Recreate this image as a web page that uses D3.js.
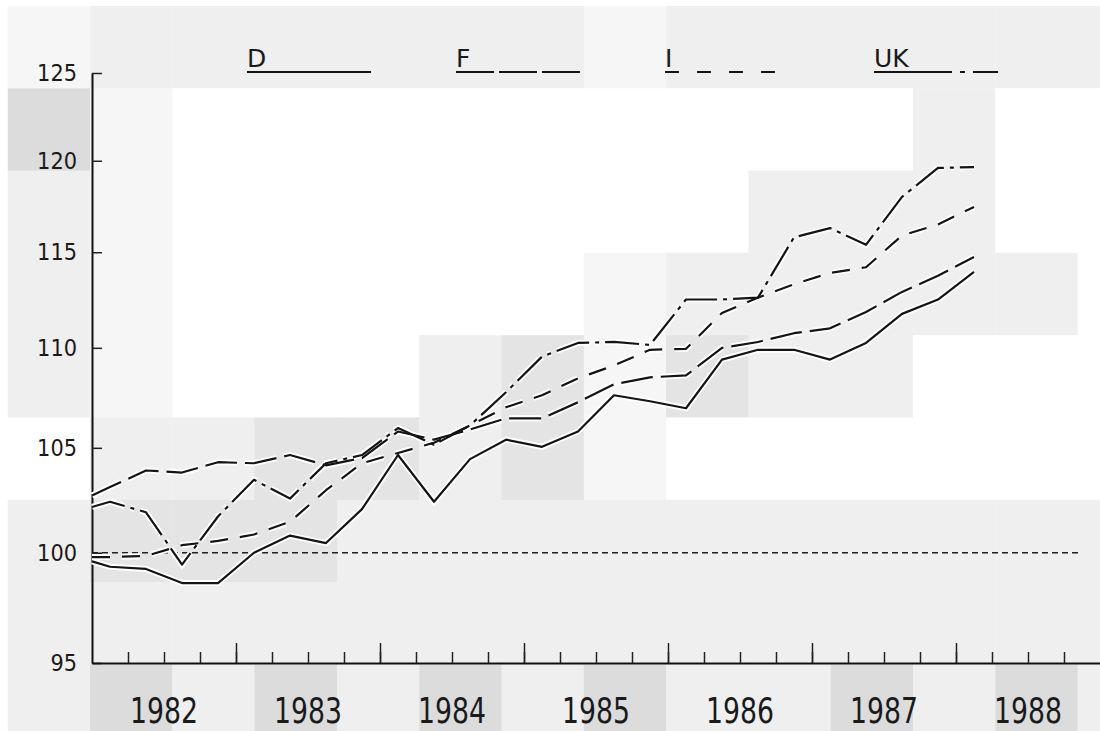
<!DOCTYPE html>
<html>
<head>
<meta charset="utf-8">
<script src="https://cdn.jsdelivr.net/npm/d3@7"></script>
<style>
body{margin:0;background:#fff}
svg{display:block}
text{fill:#1a1a1a;font-family:'DejaVu Sans',sans-serif}
</style>
</head>
<body>
<svg width="1100" height="731"></svg>
<script>
// index 1980 = 100, quarterly (line starts at the axis, then mid-quarter points)
const periods = [1982.0, 1982.125, 1982.375, 1982.625, 1982.875, 1983.125, 1983.375, 1983.625, 1983.875,
  1984.125, 1984.375, 1984.625, 1984.875, 1985.125, 1985.375, 1985.625, 1985.875,
  1986.125, 1986.375, 1986.625, 1986.875, 1987.125, 1987.375, 1987.625, 1987.875, 1988.125]
const seriesD = [99.6, 99.35, 99.25, 98.6, 98.6, 100.0, 100.8, 100.45, 102.05, 104.65, 102.4, 104.45, 105.4,
  105.05, 105.8, 107.6, 107.3, 106.95, 109.4, 109.9, 109.9, 109.4, 110.25, 111.75, 112.5, 113.95]
const seriesF = [102.7, 103.1, 103.9, 103.8, 104.3, 104.25, 104.65, 104.15, 104.5, 105.8, 105.4, 105.9, 106.45,
  106.45, 107.25, 108.15, 108.5, 108.6, 110.0, 110.3, 110.75, 111.0, 111.85, 112.9, 113.75, 114.75]
const seriesI = [99.8, 99.8, 99.85, 100.35, 100.55, 100.85, 101.45, 102.95, 104.25, 104.75, 105.25, 106.1, 107.0,
  107.6, 108.45, 109.1, 109.9, 109.95, 111.8, 112.6, 113.3, 113.9, 114.2, 115.9, 116.5, 117.45]
const seriesUK = [102.15, 102.4, 101.9, 99.45, 101.7, 103.45, 102.55, 104.25, 104.65, 105.97, 105.15, 106.1, 107.75,
  109.55, 110.25, 110.3, 110.15, 112.5, 112.5, 112.6, 115.8, 116.3, 115.4, 118.0, 119.6, 119.65]
const names = ['D', 'F', 'I', 'UK']
const yearLabels = ['1982', '1983', '1984', '1985', '1986', '1987', '1988']
const yTicks = [95, 100, 105, 110, 115, 120, 125]
const baseline = 100

// scan texture, one char per block
const shadeRows = [
  '12222221222222',
  '41000000000200',
  '21000000022200',
  '21000001222220',
  '21000231322000',
  '02233231000000',
  '23332222222222',
  '22222222222222',
  '24242424224242'
]
const shades = {'0':'#ffffff','1':'#f6f6f6','2':'#efefef','3':'#e4e4e4','4':'#dcdcdc'}
const dashes = ['none', '32,8', '18,12', '34,6,4,6']
const keyDashes = ['none', '38,5', '14,18', '78,8,5,8']

const svg = d3.select('svg')
const x = d3.scaleLinear().domain([1982, 1989]).range([92, 1100])
const y = d3.scaleLog().domain([95, 125]).range([663, 73])

/* background blocks */
const cell = 82.3
svg.append('g').selectAll('g').data(shadeRows)
  .join('g')
  .each(function(row, r){
    d3.select(this).selectAll('rect').data(row.split(''))
      .join('rect')
      .attr('x', (_, c) => 7.7 + c*cell)
      .attr('y', 6 + r*cell)
      .attr('width', cell + 0.4)
      .attr('height', cell + 0.4)
      .attr('fill', d => shades[d])
  })

/* 100 reference */
svg.append('line')
  .attr('x1', x(1982)).attr('x2', x(1988.85))
  .attr('y1', y(baseline)).attr('y2', y(baseline))
  .attr('stroke', '#222').attr('stroke-width', 1.4)
  .attr('stroke-dasharray', '6,4')

/* axes */
const yAxis = svg.append('g')
  .attr('transform', `translate(${x(1982)},0)`)
  .call(d3.axisLeft(y).tickValues(yTicks).tickSize(-10).tickSizeOuter(0).tickPadding(15).tickFormat(d3.format('d')))
yAxis.select('.domain').attr('stroke', '#111').attr('stroke-width', 2)
yAxis.selectAll('.tick line').attr('stroke', '#222').attr('stroke-width', 1.5)
yAxis.selectAll('.tick text')
  .attr('font-size', 23)
  .attr('textLength', d => String(d).length*13.3)
  .attr('lengthAdjust', 'spacingAndGlyphs')
  .attr('fill', '#1a1a1a')

const xMinor = svg.append('g')
  .attr('transform', `translate(0,${y(95)})`)
  .call(d3.axisBottom(x).tickValues(d3.range(1982.25, 1989, 0.25)).tickSize(-11).tickSizeOuter(0).tickFormat(''))
xMinor.select('.domain').attr('stroke', '#111').attr('stroke-width', 2)
xMinor.selectAll('.tick line').attr('stroke', '#222').attr('stroke-width', 1.5)

const xMajor = svg.append('g')
  .attr('transform', `translate(0,${y(95)})`)
  .call(d3.axisBottom(x).tickValues(d3.range(1983, 1989, 1)).tickSize(-20).tickSizeOuter(0).tickFormat(''))
xMajor.select('.domain').remove()
xMajor.selectAll('.tick line').attr('stroke', '#222').attr('stroke-width', 1.5)

svg.append('g').selectAll('text').data(yearLabels)
  .join('text')
  .attr('x', d => x(+d + 0.5) - 34)
  .attr('y', 723)
  .attr('font-size', 35)
  .attr('textLength', 68)
  .attr('lengthAdjust', 'spacingAndGlyphs')
  .text(d => d)

/* series */
const series = names.map((name, i) => ({name, values: [seriesD, seriesF, seriesI, seriesUK][i], dash: dashes[i], key: keyDashes[i]}))
const line = d3.line()
  .x((_, i) => x(periods[i]))
  .y(d => y(d))

const $lines = svg.append('g')
$lines.selectAll('.halo').data(series)
  .join('path').classed('halo', true)
  .attr('d', d => line(d.values))
  .attr('fill', 'none')
  .attr('stroke', '#fff')
  .attr('stroke-width', 6)
  .attr('stroke-dasharray', d => d.dash)
$lines.selectAll('.ln').data(series)
  .join('path').classed('ln', true)
  .attr('d', d => line(d.values))
  .attr('fill', 'none')
  .attr('stroke', '#141414')
  .attr('stroke-width', 2.2)
  .attr('stroke-linejoin', 'round')
  .attr('stroke-dasharray', d => d.dash)

/* legend */
const legend = svg.append('g').selectAll('g').data(series)
  .join('g')
  .attr('transform', (_, i) => `translate(${247 + i*209},0)`)
legend.append('line')
  .attr('x1', 0).attr('x2', 124)
  .attr('y1', 72).attr('y2', 72)
  .attr('stroke', '#141414')
  .attr('stroke-width', 2.2)
  .attr('stroke-dasharray', d => d.key)
legend.append('text')
  .attr('x', 0)
  .attr('y', 67)
  .attr('font-size', 25)
  .attr('font-family', "'DejaVu Sans Condensed','DejaVu Sans',sans-serif")
  .text(d => d.name)
</script>
</body>
</html>
